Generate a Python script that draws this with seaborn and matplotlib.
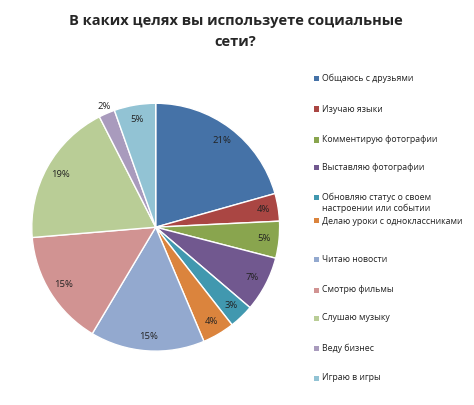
import matplotlib
matplotlib.use("Agg")
import matplotlib.pyplot as plt
from matplotlib.patches import Rectangle
import seaborn as sns

sns.set_theme(style="white")
plt.rcParams['font.family'] = ['Open Sans', 'DejaVu Sans']

categories = [
    "Общаюсь с друзьями",
    "Изучаю языки",
    "Комментирую фотографии",
    "Выставляю фотографии",
    "Обновляю статус о своем\nнастроении или событии",
    "Делаю уроки с одноклассниками",
    "Читаю новости",
    "Смотрю фильмы",
    "Слушаю музыку",
    "Веду бизнес",
    "Играю в игры",
]
shares = [20.6, 3.6, 4.8, 7.2, 3.2, 4.2, 14.9, 15.1, 18.8, 2.1, 5.4]
colors = ["#4572A7", "#AA4643", "#89A54E", "#71588F", "#4198AF", "#DB843D",
          "#93A9CF", "#D19392", "#B9CD96", "#A99BBD", "#92C3D4"]

W, H = 474, 405
fig = plt.figure(figsize=(W / 100, H / 100), dpi=100)
ax = fig.add_axes([0.067, 0.133, 0.523, 0.612])

wedges, texts, autotexts = ax.pie(
    shares, colors=colors, startangle=90, counterclock=False,
    autopct='%.0f%%', pctdistance=0.88,
    wedgeprops=dict(edgecolor="white", linewidth=1.0),
    textprops=dict(fontsize=6.8, color="#222222"),
)
# small slice label sits just outside the pie
x, y = autotexts[9].get_position()
autotexts[9].set_position((x * 1.2, y * 1.2))
ax.set_xlim(-1.0, 1.0)
ax.set_ylim(-1.0, 1.0)
ax.set_aspect("equal")
for w in wedges:
    w.set_clip_on(False)

fig.text(0.497, 0.922, "В каких целях вы используете социальные\nсети?",
         ha="center", va="center", fontsize=10.5, fontweight="bold",
         linespacing=1.65)

# legend drawn entry by entry, Excel-style (uneven row gaps)
legend_rows = [78, 109, 140, 168, 203, 221, 259, 290, 318, 348, 378]
for label, color, row in zip(categories, colors, legend_rows):
    n_lines = label.count("\n") + 1
    mark_y = row - (n_lines - 1) * 6
    fig.patches.append(Rectangle((313.5 / W, 1 - (mark_y + 2.5) / H), 5 / W, 5 / H,
                                 transform=fig.transFigure, facecolor=color,
                                 edgecolor="none"))
    fig.text(322.5 / W, 1 - row / H, label, ha="left", va="center",
             fontsize=6.3, color="#222222", linespacing=1.3)

fig.savefig("out.png", dpi=100)
